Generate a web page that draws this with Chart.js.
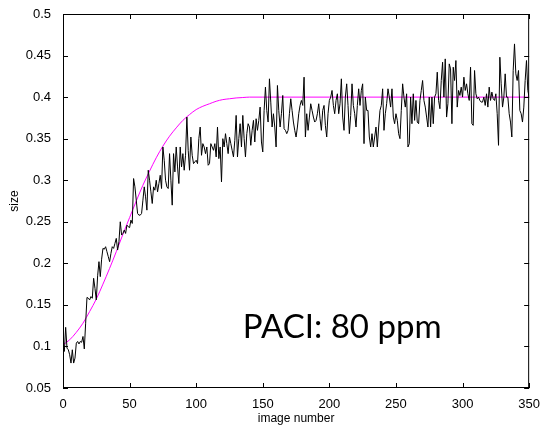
<!DOCTYPE html>
<html><head><meta charset="utf-8">
<script src="https://cdn.jsdelivr.net/npm/chart.js@4/dist/chart.umd.min.js"></script>
<style>html,body{margin:0;padding:0;background:#fff}#wrap{width:541px;height:428px;position:relative}</style>
</head><body><div id="wrap"><canvas id="c" width="541" height="428"></canvas></div>
<script>
// measured size for image numbers 0..350
const sizeValues = [
0.100,0.094,0.123,0.098,0.096,0.090,0.080,0.096,0.080,0.086,
0.104,0.106,0.103,0.106,0.105,0.112,0.097,0.128,0.159,0.158,
0.156,0.160,0.158,0.182,0.170,0.156,0.185,0.202,0.184,0.205,
0.218,0.217,0.220,0.214,0.208,0.202,0.212,0.220,0.218,0.224,
0.230,0.216,0.226,0.250,0.234,0.236,0.240,0.236,0.246,0.244,
0.243,0.252,0.248,0.302,0.292,0.276,0.260,0.258,0.258,0.260,
0.276,0.292,0.280,0.264,0.312,0.300,0.286,0.272,0.292,0.288,
0.300,0.286,0.296,0.306,0.290,0.340,0.324,0.300,0.292,0.290,
0.332,0.300,0.270,0.332,0.310,0.340,0.316,0.296,0.340,0.316,
0.332,0.312,0.330,0.376,0.336,0.312,0.352,0.330,0.320,0.322,
0.324,0.320,0.350,0.364,0.330,0.344,0.340,0.332,0.340,0.318,
0.320,0.344,0.340,0.336,0.344,0.328,0.364,0.326,0.340,0.298,
0.350,0.340,0.356,0.344,0.332,0.352,0.344,0.336,0.328,0.348,
0.378,0.328,0.350,0.368,0.340,0.378,0.350,0.328,0.356,0.368,
0.364,0.342,0.360,0.372,0.346,0.374,0.360,0.372,0.388,0.346,
0.334,0.384,0.412,0.384,0.370,0.422,0.394,0.364,0.380,0.364,
0.340,0.414,0.384,0.364,0.380,0.402,0.362,0.360,0.356,0.360,
0.380,0.398,0.384,0.370,0.360,0.352,0.364,0.380,0.390,0.396,
0.390,0.424,0.352,0.380,0.360,0.376,0.392,0.384,0.376,0.370,
0.372,0.380,0.392,0.374,0.360,0.384,0.390,0.366,0.352,0.380,
0.396,0.400,0.408,0.390,0.380,0.396,0.404,0.380,0.392,0.422,
0.376,0.360,0.400,0.416,0.390,0.356,0.378,0.416,0.390,0.380,
0.364,0.390,0.410,0.390,0.408,0.416,0.344,0.400,0.384,0.384,
0.352,0.340,0.356,0.340,0.352,0.364,0.340,0.364,0.384,0.390,
0.410,0.360,0.380,0.392,0.410,0.400,0.388,0.410,0.376,0.368,
0.380,0.372,0.356,0.350,0.384,0.416,0.400,0.388,0.404,0.340,
0.344,0.400,0.368,0.404,0.372,0.396,0.370,0.368,0.396,0.408,
0.420,0.396,0.388,0.376,0.364,0.400,0.364,0.400,0.368,0.400,
0.404,0.430,0.396,0.386,0.420,0.442,0.400,0.446,0.376,0.392,
0.440,0.434,0.368,0.436,0.420,0.444,0.388,0.408,0.402,0.412,
0.400,0.424,0.408,0.416,0.404,0.396,0.436,0.368,0.366,0.432,
0.404,0.398,0.400,0.396,0.394,0.394,0.400,0.390,0.404,0.388,
0.412,0.396,0.406,0.398,0.396,0.404,0.380,0.342,0.448,0.416,
0.388,0.400,0.428,0.400,0.400,0.380,0.370,0.352,0.432,0.464,
0.428,0.420,0.432,0.384,0.380,0.370,0.388,0.420,0.444,0.408,
0.400
];
// fitted (magenta) curve
const fitImageNumbers = [0,5,10,15,20,25,30,35,40,45,50,55,60,65,70,75,80,85,90,95,100,105,110,115,120,125,130,135,140,150,200,250,300,350];
const fitValues = [0.102,0.108,0.117,0.128,0.142,0.157,0.175,0.194,0.214,0.235,0.255,0.275,0.294,0.311,0.327,0.341,0.353,0.363,0.372,0.379,0.385,0.389,0.392,0.395,0.397,0.398,0.399,0.3995,0.400,0.400,0.400,0.400,0.400,0.400];
const xTickValues = [0,50,100,150,200,250,300,350];
const yTickValues = [0.05,0.1,0.15,0.2,0.25,0.3,0.35,0.4,0.45,0.5];
const yTickLabels = ['0.05','0.1','0.15','0.2','0.25','0.3','0.35','0.4','0.45','0.5'];
const annotationText = 'PACI: 80 ppm';
const annotationAt = {x: 135, y: 0.11};

const boxPlugin = {
  id: 'box',
  afterDraw(chart) {
    const {ctx, chartArea: a, scales} = chart;
    ctx.save();
    ctx.strokeStyle = '#000';
    ctx.lineWidth = 1;
    ctx.strokeRect(a.left + 0.5, a.top + 0.5, a.right - a.left - 1, a.bottom - a.top - 1);
    const L = 5;
    ctx.beginPath();
    xTickValues.forEach(v => {
      const px = Math.round(scales.x.getPixelForValue(v)) + 0.5;
      ctx.moveTo(px, a.bottom); ctx.lineTo(px, a.bottom - L);
      ctx.moveTo(px, a.top); ctx.lineTo(px, a.top + L);
    });
    yTickValues.forEach(v => {
      const py = Math.round(scales.y.getPixelForValue(v)) + 0.5;
      ctx.moveTo(a.left, py); ctx.lineTo(a.left + L, py);
      ctx.moveTo(a.right, py); ctx.lineTo(a.right - L, py);
    });
    ctx.stroke();
    ctx.fillStyle = '#000';
    ctx.font = '33px Lato';
    ctx.textBaseline = 'alphabetic';
    ctx.textAlign = 'left';
    ctx.fillText(annotationText, scales.x.getPixelForValue(annotationAt.x), scales.y.getPixelForValue(annotationAt.y));
    ctx.restore();
  }
};

new Chart(document.getElementById('c'), {
  type: 'line',
  data: {
    datasets: [
      {
        data: sizeValues.map((v, i) => ({x: i, y: v})),
        borderColor: '#000', borderWidth: 1, pointRadius: 0, tension: 0
      },
      {
        data: fitImageNumbers.map((x, i) => ({x: x, y: fitValues[i]})),
        borderColor: '#ff00ff', borderWidth: 1, pointRadius: 0, cubicInterpolationMode: 'monotone'
      }
    ]
  },
  options: {
    responsive: false, animation: false, devicePixelRatio: 1,
    layout: {padding: {left: 0, right: 11, top: 14, bottom: 0}},
    plugins: {legend: {display: false}, tooltip: {enabled: false}},
    scales: {
      x: {
        type: 'linear', min: 0, max: 350,
        afterBuildTicks: s => { s.ticks = xTickValues.map(v => ({value: v})); },
        afterFit: s => { s.height = 40; },
        grid: {display: false}, border: {display: false},
        ticks: {color: '#000', font: {family: 'Liberation Sans', size: 13}, padding: 1, maxRotation: 0},
        title: {display: true, text: 'image number', color: '#000', font: {family: 'Liberation Sans', size: 12}, padding: {top: 0, bottom: 2}}
      },
      y: {
        type: 'linear', min: 0.05, max: 0.5,
        afterBuildTicks: s => { s.ticks = yTickValues.map(v => ({value: v})); },
        afterFit: s => { s.width = 63; },
        grid: {display: false}, border: {display: false},
        ticks: {color: '#000', font: {family: 'Liberation Sans', size: 13}, padding: 4,
          callback: (v) => { const i = yTickValues.findIndex(t => Math.abs(t - v) < 1e-9); return i >= 0 ? yTickLabels[i] : ''; }},
        title: {display: true, text: 'size', color: '#000', font: {family: 'Liberation Sans', size: 12}, padding: {top: 7, bottom: 0}}
      }
    }
  },
  plugins: [boxPlugin]
});
</script></body></html>
